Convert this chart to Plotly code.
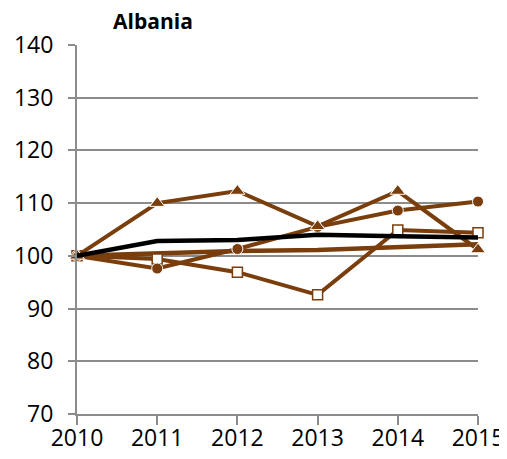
import plotly.graph_objects as go

years = [2010, 2011, 2012, 2013, 2014, 2015]
black_total = [100, 102.8, 103.0, 104.0, 103.7, 103.5]
plain_series = [100, 100.5, 100.9, 101.1, 101.6, 102.2]
square_series = [100, 99.4, 96.9, 92.6, 104.9, 104.4]
circle_series = [100, 97.6, 101.3, 105.5, 108.6, 110.3]
triangle_series = [100, 110.0, 112.3, 105.6, 112.3, 101.2]
y_ticks = [70, 80, 90, 100, 110, 120, 130, 140]

BROWN = "#7a3d0c"
OFF = 8  # page body margin
W, H = 507 - OFF, 459 - OFF
fig = go.Figure()

fig.add_trace(go.Scatter(x=years, y=plain_series, mode="lines",
                         line=dict(color=BROWN, width=4.5), cliponaxis=False))
fig.add_trace(go.Scatter(x=years, y=square_series, mode="lines+markers",
                         line=dict(color=BROWN, width=4),
                         marker=dict(symbol="square", size=10, color="white",
                                     line=dict(color=BROWN, width=1.5)),
                         cliponaxis=False))
fig.add_trace(go.Scatter(x=years, y=circle_series, mode="lines+markers",
                         line=dict(color=BROWN, width=4),
                         marker=dict(symbol="circle", size=11, color=BROWN,
                                     line=dict(color="white", width=1)),
                         cliponaxis=False))
fig.add_trace(go.Scatter(x=years, y=triangle_series, mode="lines+markers",
                         line=dict(color=BROWN, width=4),
                         marker=dict(symbol="triangle-up", size=13, color=BROWN,
                                     line=dict(color="white", width=1)),
                         cliponaxis=False))
fig.add_trace(go.Scatter(x=years, y=black_total, mode="lines",
                         line=dict(color="black", width=4.5), cliponaxis=False))

fig.update_layout(
    width=W, height=H,
    margin=dict(l=77 - OFF, r=29, t=45 - OFF, b=45),
    paper_bgcolor="white", plot_bgcolor="white",
    showlegend=False,
    font=dict(family="Open Sans", size=23, color="black"),
    title=dict(text="<b>Albania</b>", x=(153 - OFF) / W, xanchor="center",
               y=1 - (22 - OFF) / H, yanchor="middle",
               font=dict(family="Open Sans", size=21, color="black")),
)
fig.update_xaxes(range=[2010, 2015], tickvals=years, ticktext=[str(y) for y in years],
                 showgrid=False, showline=True, linecolor="#8c8c8c", linewidth=2,
                 ticks="outside", ticklen=9, tickwidth=2, tickcolor="#8c8c8c",
                 zeroline=False, tickfont=dict(size=23), automargin=False,
                 ticklabelstandoff=-7)
fig.update_yaxes(range=[70, 140], tickvals=y_ticks,
                 showgrid=True, gridcolor="#8c8c8c", gridwidth=2,
                 showline=True, linecolor="#8c8c8c", linewidth=2,
                 ticks="outside", ticklen=7, tickwidth=2, tickcolor="#8c8c8c",
                 zeroline=False, tickfont=dict(size=23), ticklabelstandoff=10,
                 automargin=False)

fig.write_html("out.html")
